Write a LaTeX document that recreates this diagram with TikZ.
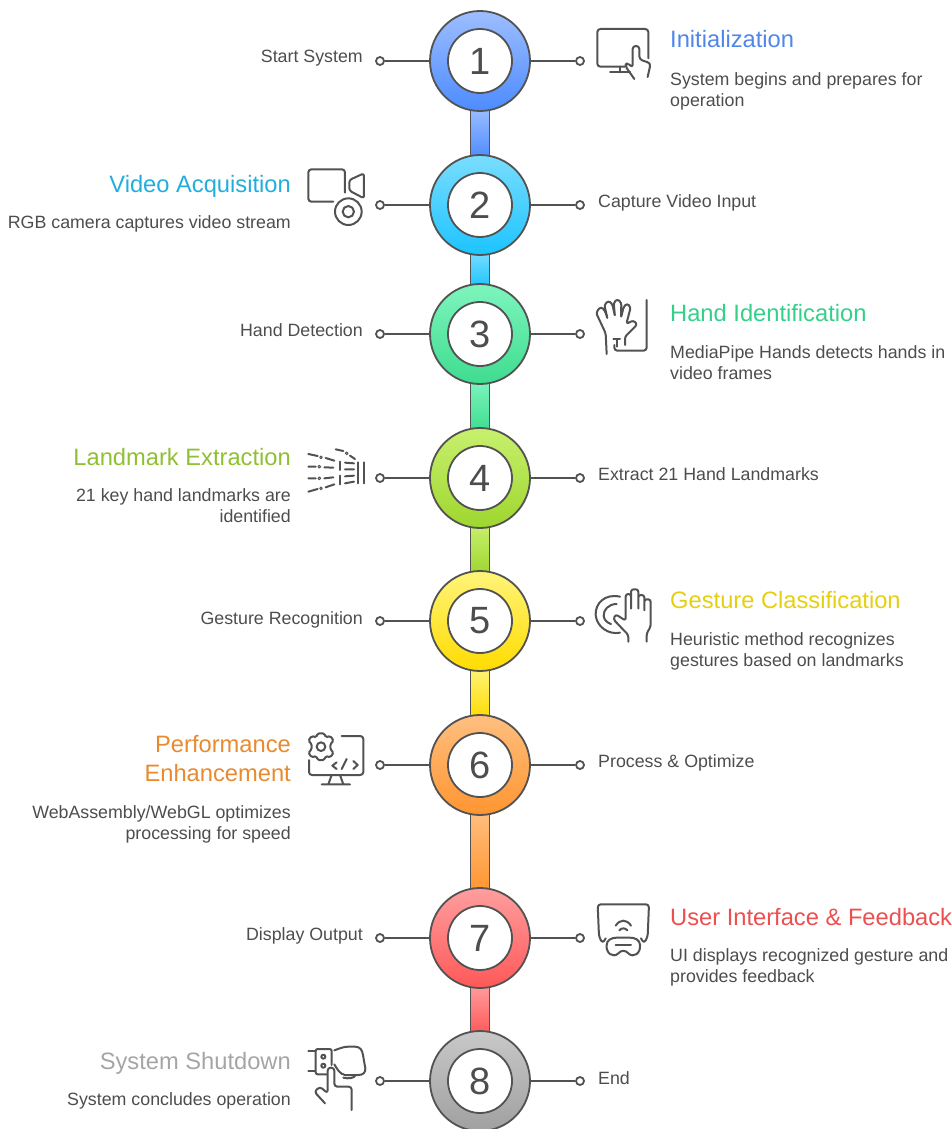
\documentclass[tikz,border=0pt]{standalone}
\usepackage{fontspec}
\setmainfont{Liberation Sans}
\usepackage{xcolor}
\usetikzlibrary{positioning}
\definecolor{edge}{RGB}{82,82,82}
\definecolor{ink}{RGB}{77,77,77}
\definecolor{oneA}{RGB}{157,190,255}
\definecolor{oneB}{RGB}{77,139,255}
\definecolor{twoA}{RGB}{122,221,255}
\definecolor{twoB}{RGB}{28,196,255}
\definecolor{threeA}{RGB}{126,245,190}
\definecolor{threeB}{RGB}{62,220,143}
\definecolor{fourA}{RGB}{200,240,110}
\definecolor{fourB}{RGB}{158,214,46}
\definecolor{fiveA}{RGB}{255,244,122}
\definecolor{fiveB}{RGB}{255,220,0}
\definecolor{sixA}{RGB}{255,191,128}
\definecolor{sixB}{RGB}{255,149,48}
\definecolor{sevenA}{RGB}{255,158,158}
\definecolor{sevenB}{RGB}{255,88,88}
\definecolor{eightA}{RGB}{200,200,200}
\definecolor{eightB}{RGB}{160,160,160}
\definecolor{oneT}{RGB}{79,134,232}
\definecolor{twoT}{RGB}{33,174,222}
\definecolor{threeT}{RGB}{52,208,138}
\definecolor{fourT}{RGB}{143,192,50}
\definecolor{fiveT}{RGB}{230,207,18}
\definecolor{sixT}{RGB}{233,138,47}
\definecolor{sevenT}{RGB}{236,79,79}
\definecolor{eightT}{RGB}{165,165,165}
\tikzset{
    ring/.style={circle, draw=edge, line width=1.8pt, minimum size=100pt, inner sep=0pt},
    hole/.style={circle, draw=edge, fill=white, line width=1.8pt, minimum size=64pt, inner sep=0pt, text=ink, font=\fontsize{38}{38}\selectfont},
    bar/.style={rectangle, draw=edge, line width=1.5pt, minimum width=19pt, inner sep=0pt},
    dot/.style={circle, draw=edge, fill=white, line width=1.8pt, minimum size=8pt, inner sep=0pt},
    link/.style={draw=edge, line width=1.8pt},
    title/.style={inner sep=0pt, align=left, font=\fontsize{23.7}{29}\selectfont},
    titler/.style={inner sep=0pt, align=right, font=\fontsize{23.7}{29}\selectfont},
    desc/.style={inner sep=0pt, text=ink, align=left, font=\fontsize{17.8}{21}\selectfont},
    descr/.style={inner sep=0pt, text=ink, align=right, font=\fontsize{17.8}{21}\selectfont},
    tag/.style={inner sep=0pt, text=ink, font=\fontsize{17.8}{21}\selectfont},
    icon/.style={draw=edge, line width=2pt, line cap=round, line join=round}
}
\begin{document}
\begin{tikzpicture}[x=1pt, y=-1pt, node distance=100pt]
    \useasboundingbox (0,0) rectangle (952,1129);

    % Bars between the rings
    \node[bar, minimum height=52pt, top color=oneA, bottom color=oneB] (b1) at (480,133) {};
    \node[bar, minimum height=37pt, top color=twoA, bottom color=twoB] (b2) at (480,269.5) {};
    \node[bar, minimum height=52pt, top color=threeA, bottom color=threeB] (b3) at (480,406) {};
    \node[bar, minimum height=51pt, top color=fourA, bottom color=fourB] (b4) at (480,549.5) {};
    \node[bar, minimum height=52pt, top color=fiveA, bottom color=fiveB] (b5) at (480,693) {};
    \node[bar, minimum height=81pt, top color=sixA, bottom color=sixB] (b6) at (480,851.5) {};
    \node[bar, minimum height=51pt, top color=sevenA, bottom color=sevenB] (b7) at (480,1009.5) {};

    % Rings
    \node[ring, top color=oneA, bottom color=oneB] (c1) at (480,61) {};
    \node[ring, top color=twoA, bottom color=twoB] (c2) at (480,205) {};
    \node[ring, top color=threeA, bottom color=threeB] (c3) at (480,334) {};
    \node[ring, top color=fourA, bottom color=fourB] (c4) at (480,478) {};
    \node[ring, top color=fiveA, bottom color=fiveB] (c5) at (480,621) {};
    \node[ring, top color=sixA, bottom color=sixB] (c6) at (480,765) {};
    \node[ring, top color=sevenA, bottom color=sevenB] (c7) at (480,938) {};
    \node[ring, top color=eightA, bottom color=eightB] (c8) at (480,1081) {};

    % Numbers
    \node[hole] (n1) at (c1) {1};
    \node[hole] (n2) at (c2) {2};
    \node[hole] (n3) at (c3) {3};
    \node[hole] (n4) at (c4) {4};
    \node[hole] (n5) at (c5) {5};
    \node[hole] (n6) at (c6) {6};
    \node[hole] (n7) at (c7) {7};
    \node[hole] (n8) at (c8) {8};

    % Dots left and right
    \foreach \i in {1,...,8} {
        \node[dot, left of=c\i] (dl\i) {};
        \node[dot, right of=c\i] (dr\i) {};
        \draw[link] (c\i) -- (dl\i);
        \draw[link] (c\i) -- (dr\i);
    }

    % Short labels
    \node[tag, anchor=base east] (t1) at (363,63) {Start System};
    \node[tag, anchor=base west] (t2) at (598,207) {Capture Video Input};
    \node[tag, anchor=base east] (t3) at (363,336) {Hand Detection};
    \node[tag, anchor=base west] (t4) at (598,480) {Extract 21 Hand Landmarks};
    \node[tag, anchor=base east] (t5) at (363,624) {Gesture Recognition};
    \node[tag, anchor=base west] (t6) at (598,767) {Process \& Optimize};
    \node[tag, anchor=base east] (t7) at (363,940) {Display Output};
    \node[tag, anchor=base west] (t8) at (598,1084) {End};

    % Titles
    \node[title, text=oneT, anchor=base west] (h1) at (670,48) {Initialization};
    \node[titler, text=twoT, anchor=base east] (h2) at (291,192) {Video Acquisition};
    \node[title, text=threeT, anchor=base west] (h3) at (670,321) {Hand Identification};
    \node[titler, text=fourT, anchor=base east] (h4) at (291,465) {Landmark Extraction};
    \node[title, text=fiveT, anchor=base west] (h5) at (670,608) {Gesture Classification};
    \node[titler, text=sixT, anchor=north east] (h6) at (291,735.5) {Performance\\Enhancement};
    \node[title, text=sevenT, anchor=base west] (h7) at (670,925) {User Interface \& Feedback};
    \node[titler, text=eightT, anchor=base east] (h8) at (291,1069) {System Shutdown};

    % Descriptions
    \node[desc, anchor=north west] (d1) at (670,72.5) {System begins and prepares for\\operation};
    \node[descr, anchor=north east] (d2) at (291,215.5) {RGB camera captures video stream};
    \node[desc, anchor=north west] (d3) at (670,345.5) {MediaPipe Hands detects hands in\\video frames};
    \node[descr, anchor=north east] (d4) at (291,488.5) {21 key hand landmarks are\\identified};
    \node[desc, anchor=north west] (d5) at (670,632.5) {Heuristic method recognizes\\gestures based on landmarks};
    \node[descr, anchor=north east] (d6) at (291,805.5) {WebAssembly/WebGL optimizes\\processing for speed};
    \node[desc, anchor=north west] (d7) at (670,948.5) {UI displays recognized gesture and\\provides feedback};
    \node[descr, anchor=north east] (d8) at (291,1092.5) {System concludes operation};

    % Touch screen
    \begin{scope}[shift={(585,15)}, x=.3333pt, y=-.3333pt]
        \draw[icon, rounded corners=3pt] (190,130) -- (190,42) -- (37,42) -- (37,155) -- (120,155);
        \draw[icon] (105,155) -- (105,172) (75,172) -- (135,172);
        \draw[icon, rounded corners=3pt] (148,192) -- (120,152) -- (127,143) -- (143,158) -- (143,93) -- (163,93) -- (163,133) -- (197,145) -- (188,186);
    \end{scope}

    % Video camera
    \begin{scope}[shift={(290,150)}, x=.3333pt, y=-.3333pt]
        \draw[icon, rounded corners=3pt] (165,128) -- (165,58) -- (55,58) -- (55,155) -- (130,155);
        \draw[icon, rounded corners=2.5pt] (178,90) -- (222,70) -- (222,145) -- (178,122) -- cycle;
        \draw[icon] (175,185) circle (40);
        \draw[icon] (175,185) circle (17);
    \end{scope}

    % Raised hand
    \begin{scope}[shift={(585,290)}, x=.3333pt, y=-.3333pt]
        \draw[icon, rounded corners=3pt] (185,30) -- (185,182) -- (88,182) -- (88,165);
        \draw[icon] (85,148) -- (105,148) (96,148) -- (96,170);
        \draw[icon, rounded corners=2.5pt] (65,192) -- (62,130) -- (33,68) -- (47,50) -- (60,62) -- (68,88) -- (58,45) -- (70,32) -- (82,42) -- (90,80) -- (86,38) -- (97,27) -- (109,38) -- (108,84) -- (116,50) -- (127,40) -- (137,52) -- (124,102) -- (145,91) -- (157,103) -- (120,140) -- (120,165);
    \end{scope}

    % Landmark fan
    \begin{scope}[shift={(295,435)}, x=.3333pt, y=-.3333pt]
        \draw[icon] (122,43) -- (145,48) (165,62) -- (180,72);
        \draw[icon] (40,57) -- (68,63) (92,69) -- (118,77);
        \draw[icon] (40,95) -- (62,95) (88,97) -- (115,98);
        \draw[icon] (40,130) -- (62,130) (88,130) -- (115,127);
        \draw[icon] (40,170) -- (68,162) (92,157) -- (118,148);
        \draw[icon] (135,80) -- (135,105) (135,122) -- (135,148);
        \draw[icon] (150,83) -- (177,85) (150,103) -- (177,103) (150,124) -- (177,122) (150,145) -- (177,140);
        \draw[icon] (190,82) -- (190,145) (207,82) -- (207,145);
        \draw[icon, line width=1pt] (155,55) circle (4) (78,67) circle (4) (73,95) circle (4) (73,130) circle (4) (78,160) circle (4);
    \end{scope}

    % Waving hand
    \begin{scope}[shift={(585,580)}, x=.3333pt, y=-.3333pt]
        \draw[icon] (105,50) .. controls (60,40) and (30,70) .. (32,105) .. controls (35,140) and (70,165) .. (105,158);
        \draw[icon] (95,72) .. controls (70,72) and (55,90) .. (56,108) .. controls (57,118) and (65,128) .. (78,132);
        \draw[icon, rounded corners=2.5pt] (130,185) -- (130,165) -- (85,118) -- (92,103) -- (122,122) -- (122,42) -- (138,42) -- (138,90) -- (138,28) -- (160,28) -- (160,90) -- (160,45) -- (178,45) -- (178,95) -- (178,58) -- (197,58) -- (197,140) -- (185,160) -- (185,185);
    \end{scope}

    % Code monitor with gear
    \begin{scope}[shift={(295,725)}, x=.3333pt, y=-.3333pt]
        \draw[icon, rounded corners=3pt] (140,33) -- (205,33) -- (205,150) -- (42,150) -- (42,105);
        \draw[icon] (110,150) -- (100,178) (135,150) -- (145,178) (80,178) -- (165,178);
        \draw[icon] (125,112) -- (112,122) -- (125,132) (140,132) -- (155,102) (175,108) -- (188,120) -- (175,132);
        \draw[icon, rounded corners=1.5pt] (68,25) -- (88,25) -- (92,37) -- (106,33) -- (116,47) -- (106,57) -- (106,73) -- (116,83) -- (106,97) -- (92,93) -- (88,105) -- (68,105) -- (64,93) -- (50,97) -- (40,83) -- (50,73) -- (50,57) -- (40,47) -- (50,33) -- (64,37) -- cycle;
        \draw[icon] (78,65) circle (13);
    \end{scope}

    % Headset screen
    \begin{scope}[shift={(585,895)}, x=.3333pt, y=-.3333pt]
        \draw[icon, rounded corners=3pt] (62,130) -- (53,145) -- (42,125) -- (38,28) -- (192,28) -- (188,125) -- (177,145) -- (168,130);
        \draw[icon] (92,92) .. controls (105,72) and (125,72) .. (138,92);
        \draw[icon] (103,106) .. controls (110,98) and (120,98) .. (127,106);
        \draw[icon] (65,150) .. controls (65,135) and (80,128) .. (95,128) -- (135,128) .. controls (150,128) and (165,135) .. (165,150) .. controls (168,175) and (145,190) .. (130,175) .. controls (122,165) and (108,165) .. (100,175) .. controls (85,190) and (62,175) .. (65,150) -- cycle;
        \draw[icon] (92,150) -- (138,150);
    \end{scope}

    % Fist and pointing finger
    \begin{scope}[shift={(295,1035)}, x=.3333pt, y=-.3333pt]
        \draw[icon] (40,48) -- (60,48) (40,108) -- (60,108);
        \draw[icon, rounded corners=2pt] (95,118) -- (62,118) -- (62,42) -- (110,42) -- (110,90);
        \draw[icon] (85,65) circle (6) (85,92) circle (6);
        \draw[icon] (118,46) .. controls (135,40) and (145,35) .. (160,35) -- (180,35) .. controls (195,35) and (202,45) .. (204,60) -- (211,100) .. controls (212,112) and (205,120) .. (190,120) -- (150,120) .. controls (135,118) and (125,100) .. (118,88);
        \draw[icon] (182,120) .. controls (178,130) and (160,132) .. (145,128);
        \draw[icon, rounded corners=3pt] (90,205) -- (58,170) -- (75,155) -- (98,175) -- (98,98) -- (118,98) -- (118,155) -- (170,155) -- (170,225);
    \end{scope}
\end{tikzpicture}
\end{document}
